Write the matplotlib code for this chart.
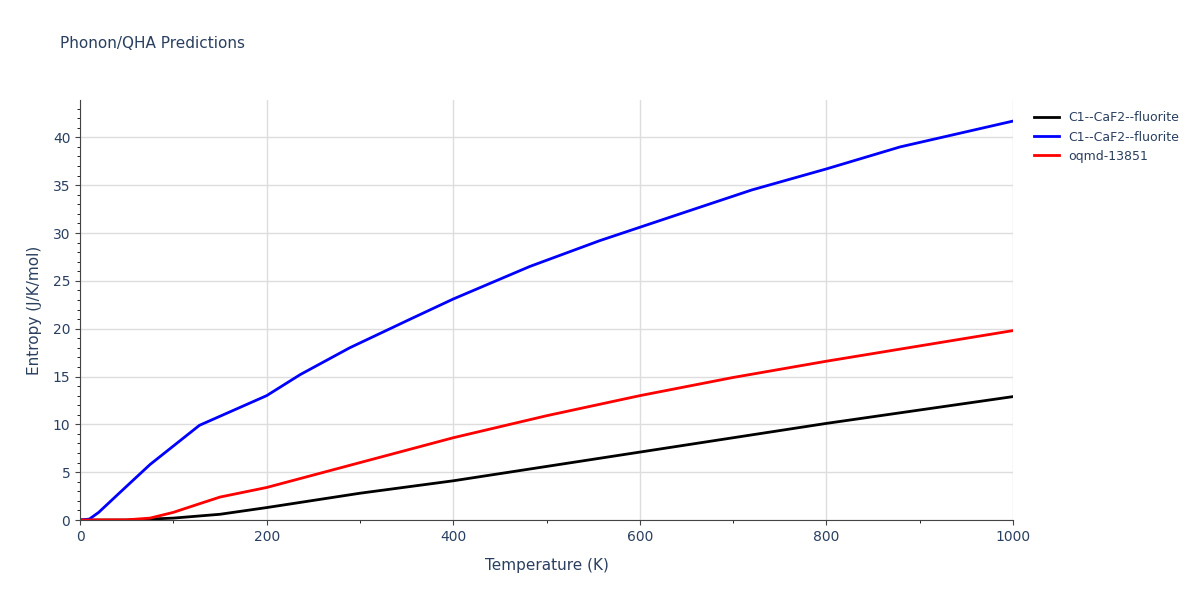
import numpy as np
import matplotlib.pyplot as plt
from matplotlib.ticker import MultipleLocator

temps_blue = [0, 10, 20, 43, 75, 128, 200, 236, 289, 354, 400, 482, 557, 600, 643, 720, 800, 879, 1000]
entropy_blue = [0, 0.1, 0.8, 2.9, 5.8, 9.9, 13.0, 15.2, 18.0, 21.0, 23.1, 26.5, 29.2, 30.6, 32.0, 34.5, 36.7, 39.0, 41.7]

temps_red = [0, 50, 75, 100, 128, 150, 200, 300, 400, 500, 600, 700, 800, 900, 1000]
entropy_red = [0, 0.02, 0.2, 0.8, 1.7, 2.4, 3.4, 6.0, 8.6, 10.9, 13.0, 14.9, 16.6, 18.2, 19.8]

temps_black = [0, 50, 100, 150, 200, 300, 400, 500, 600, 700, 800, 900, 1000]
entropy_black = [0, 0.0, 0.2, 0.6, 1.3, 2.8, 4.1, 5.6, 7.1, 8.6, 10.1, 11.5, 12.9]

labels = ["C1--CaF2--fluorite", "C1--CaF2--fluorite", "oqmd-13851"]

fig = plt.figure(figsize=(12, 6), dpi=100)
ax = fig.add_axes([0.0667, 0.1333, 0.7775, 0.7])
ax.plot(temps_black, entropy_black, color="black", lw=2, label=labels[0])
ax.plot(temps_blue, entropy_blue, color="blue", lw=2, label=labels[1])
ax.plot(temps_red, entropy_red, color="red", lw=2, label=labels[2])

ax.set_xlim(0, 1000)
ax.set_ylim(0, 43.9)
ax.xaxis.set_major_locator(MultipleLocator(200))
ax.xaxis.set_minor_locator(MultipleLocator(100))
ax.yaxis.set_major_locator(MultipleLocator(5))
ax.yaxis.set_minor_locator(MultipleLocator(1))
ax.grid(True, which="major", color="#dddddd", lw=1)
for s in ["top", "right"]:
    ax.spines[s].set_visible(False)
for s in ["left", "bottom"]:
    ax.spines[s].set_color("#444444")
ax.tick_params(colors="#444444", labelcolor="#2a3f5f", labelsize=10)
ax.set_xlabel("Temperature (K)", color="#2a3f5f", fontsize=11, labelpad=10)
ax.set_ylabel("Entropy (J/K/mol)", color="#2a3f5f", fontsize=11, labelpad=8)
fig.text(0.05, 0.92, "Phonon/QHA Predictions", color="#2a3f5f", fontsize=11)
ax.legend(loc="upper left", bbox_to_anchor=(1.01, 1.0), frameon=False,
          fontsize=9, labelcolor="#2a3f5f", handlelength=2)
fig.savefig("out.png", dpi=100)
